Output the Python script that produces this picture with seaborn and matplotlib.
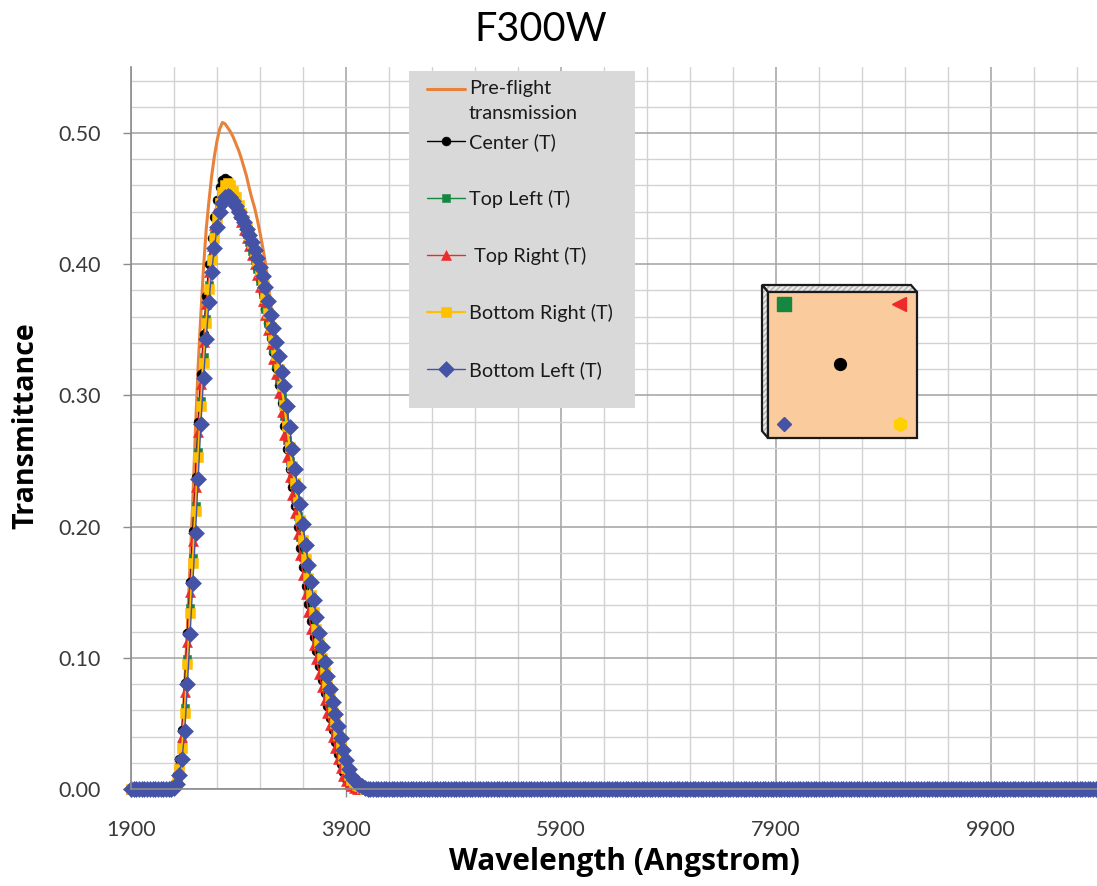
import numpy as np
import pandas as pd
import matplotlib
matplotlib.use("Agg")
import matplotlib.pyplot as plt
import seaborn as sns
from matplotlib.ticker import FixedLocator, FormatStrFormatter
from matplotlib.patches import Rectangle, Polygon
from matplotlib.legend_handler import HandlerLine2D

# ---------------- data ----------------
title_text = "F300W"
x_label = "Wavelength (Angstrom)"
y_label = "Transmittance"
x_tick_values = [1900, 3900, 5900, 7900, 9900]
y_tick_values = [0.0, 0.1, 0.2, 0.3, 0.4, 0.5]

wl_start, wl_stop, wl_step = 1900, 10900, 25   # sampling grid (Angstrom)
band_start = 2250                               # first listed band wavelength

series_names = ["Pre-flight\ntransmission", "Center (T)", "Top Left (T)",
                " Top Right (T)", "Bottom Right (T)", "Bottom Left (T)"]

# transmission values 2250..4100 A every 25 A (outside: 0)
preflight_band = [
    0.000, 0.000, 0.002, 0.008, 0.020, 0.042, 0.080, 0.125, 0.172, 0.220,
    0.275, 0.323, 0.362, 0.398, 0.427, 0.448, 0.467, 0.482, 0.494, 0.503,
    0.508, 0.507, 0.504, 0.501, 0.497, 0.492, 0.487, 0.481, 0.474, 0.467,
    0.458, 0.450, 0.443, 0.434, 0.424, 0.413, 0.401, 0.386, 0.370, 0.354,
    0.339, 0.323, 0.306, 0.288, 0.268, 0.250, 0.234, 0.219, 0.203, 0.187,
    0.172, 0.158, 0.144, 0.131, 0.118, 0.106, 0.095, 0.084, 0.074, 0.064,
    0.055, 0.046, 0.037, 0.028, 0.020, 0.013, 0.008, 0.005, 0.003, 0.001,
    0.000, 0.000, 0.000, 0.000, 0.000]
center_band = [
    0.000, 0.001, 0.004, 0.011, 0.023, 0.045, 0.081, 0.119, 0.158, 0.197,
    0.238, 0.280, 0.316, 0.347, 0.376, 0.400, 0.420, 0.436, 0.449, 0.459,
    0.464, 0.466, 0.464, 0.460, 0.455, 0.449, 0.443, 0.437, 0.431, 0.425,
    0.419, 0.412, 0.405, 0.397, 0.389, 0.378, 0.366, 0.355, 0.344, 0.333,
    0.321, 0.308, 0.294, 0.277, 0.259, 0.244, 0.230, 0.216, 0.200, 0.184,
    0.169, 0.155, 0.141, 0.128, 0.116, 0.105, 0.094, 0.083, 0.073, 0.063,
    0.054, 0.045, 0.036, 0.027, 0.019, 0.013, 0.008, 0.005, 0.003, 0.002,
    0.001, 0.000, 0.000, 0.000, 0.000]
top_left_band = [
    0.000, 0.001, 0.002, 0.007, 0.017, 0.033, 0.062, 0.099, 0.138, 0.176,
    0.216, 0.257, 0.296, 0.329, 0.358, 0.384, 0.405, 0.422, 0.436, 0.447,
    0.455, 0.460, 0.461, 0.458, 0.453, 0.447, 0.441, 0.435, 0.429, 0.423,
    0.417, 0.410, 0.403, 0.396, 0.387, 0.377, 0.366, 0.355, 0.345, 0.335,
    0.324, 0.312, 0.299, 0.284, 0.266, 0.250, 0.236, 0.222, 0.208, 0.192,
    0.177, 0.163, 0.149, 0.136, 0.123, 0.111, 0.100, 0.089, 0.079, 0.069,
    0.060, 0.050, 0.041, 0.032, 0.024, 0.016, 0.011, 0.007, 0.004, 0.003,
    0.002, 0.001, 0.000, 0.000, 0.000]
top_right_band = [
    0.000, 0.001, 0.003, 0.009, 0.020, 0.040, 0.074, 0.112, 0.150, 0.189,
    0.230, 0.272, 0.309, 0.341, 0.370, 0.394, 0.414, 0.430, 0.443, 0.453,
    0.459, 0.461, 0.459, 0.455, 0.450, 0.444, 0.438, 0.432, 0.426, 0.420,
    0.414, 0.407, 0.400, 0.392, 0.383, 0.372, 0.361, 0.350, 0.339, 0.328,
    0.316, 0.302, 0.287, 0.270, 0.253, 0.238, 0.224, 0.210, 0.194, 0.178,
    0.163, 0.149, 0.135, 0.122, 0.110, 0.099, 0.088, 0.078, 0.068, 0.058,
    0.049, 0.040, 0.031, 0.023, 0.016, 0.010, 0.006, 0.004, 0.002, 0.001,
    0.000, 0.000, 0.000, 0.000, 0.000]
bottom_right_band = [
    0.000, 0.000, 0.002, 0.006, 0.015, 0.031, 0.058, 0.095, 0.134, 0.172,
    0.212, 0.253, 0.292, 0.325, 0.355, 0.381, 0.403, 0.420, 0.435, 0.447,
    0.455, 0.460, 0.462, 0.460, 0.456, 0.451, 0.445, 0.439, 0.434, 0.428,
    0.422, 0.416, 0.409, 0.402, 0.394, 0.385, 0.374, 0.363, 0.352, 0.342,
    0.331, 0.320, 0.307, 0.293, 0.277, 0.261, 0.246, 0.233, 0.219, 0.205,
    0.190, 0.175, 0.161, 0.148, 0.135, 0.122, 0.111, 0.100, 0.089, 0.079,
    0.069, 0.059, 0.050, 0.041, 0.032, 0.024, 0.016, 0.011, 0.007, 0.005,
    0.003, 0.002, 0.001, 0.000, 0.000]
bottom_left_band = [
    0.000, 0.000, 0.001, 0.004, 0.011, 0.023, 0.044, 0.080, 0.118, 0.157,
    0.195, 0.236, 0.278, 0.313, 0.343, 0.371, 0.394, 0.412, 0.428, 0.440,
    0.447, 0.451, 0.452, 0.451, 0.448, 0.444, 0.440, 0.436, 0.432, 0.427,
    0.422, 0.417, 0.411, 0.405, 0.398, 0.391, 0.383, 0.372, 0.361, 0.351,
    0.341, 0.330, 0.318, 0.307, 0.292, 0.276, 0.259, 0.244, 0.230, 0.217,
    0.202, 0.186, 0.171, 0.158, 0.144, 0.131, 0.119, 0.108, 0.097, 0.086,
    0.076, 0.066, 0.057, 0.048, 0.039, 0.030, 0.022, 0.015, 0.010, 0.007,
    0.005, 0.003, 0.002, 0.001, 0.000]

bands = [preflight_band, center_band, top_left_band, top_right_band,
         bottom_right_band, bottom_left_band]

wavelength = np.arange(wl_start, wl_stop + 1, wl_step)
n_pre = (band_start - wl_start) // wl_step
frames = []
for name, band in zip(series_names, bands):
    n_post = len(wavelength) - n_pre - len(band)
    vals = np.concatenate([np.zeros(n_pre), np.array(band), np.zeros(n_post)])
    frames.append(pd.DataFrame({"wavelength": wavelength, "T": vals, "series": name}))
df = pd.concat(frames, ignore_index=True)

# ---------------- styles ----------------
colors = ["#E8823A", "#000000", "#17873F", "#EE2B2B", "#FFC000", "#4553A6"]
markers = [None, "o", "s", "^", "s", "D"]
msizes = [0, 6.4, 6.0, 6.8, 7.0, 8.2]
lwidths = [2.2, 1.0, 1.0, 1.0, 1.6, 1.0]

sns.set_theme(style="white")
plt.rcParams["font.family"] = ["Lato", "DejaVu Sans"]

W, H = 1097, 886
fig = plt.figure(figsize=(W / 100, H / 100), dpi=100)
fig.patch.set_facecolor("white")

ax_l, ax_r, ax_t, ax_b = 131, 1098.5, 67.4, 789
ax = fig.add_axes([ax_l / W, 1 - ax_b / H, (ax_r - ax_l) / W, (ax_b - ax_t) / H])
ax.set_facecolor("white")

handles = []
for name, c, m, ms, lw in zip(series_names, colors, markers, msizes, lwidths):
    sub = df[df["series"] == name]
    kw = dict(color=c, linewidth=lw, estimator=None, sort=False, ax=ax,
              legend=False, clip_on=False)
    if m is not None:
        kw.update(marker=m, markersize=ms, markeredgecolor=c,
                  markeredgewidth=0.4, markerfacecolor=c)
    sns.lineplot(data=sub, x="wavelength", y="T", **kw)
    handles.append(ax.lines[-1])

ax.set_xlim(wl_start, wl_stop)
ax.set_ylim(0, 0.55)

ax.xaxis.set_major_locator(FixedLocator(x_tick_values))
ax.xaxis.set_minor_locator(FixedLocator(np.arange(wl_start, wl_stop + 1, 400)))
ax.yaxis.set_major_locator(FixedLocator(y_tick_values))
ax.yaxis.set_minor_locator(FixedLocator(np.arange(0, 0.5401, 0.02)))
ax.yaxis.set_major_formatter(FormatStrFormatter("%.2f"))

ax.grid(which="major", color="#A2A2A2", linewidth=1.1)
ax.grid(which="minor", color="#D2D2D2", linewidth=1.0)
ax.set_axisbelow(True)

for s in ["top", "right"]:
    ax.spines[s].set_visible(False)
for s in ["left", "bottom"]:
    ax.spines[s].set_color("#8C8C8C")
    ax.spines[s].set_linewidth(1.2)

ax.tick_params(which="major", direction="out", length=5.8, width=1.0,
               color="#8C8C8C", labelsize=15.5, labelcolor="#3A3A3A")
ax.tick_params(axis="x", which="major", pad=16.5, bottom=True)
ax.tick_params(axis="y", which="major", pad=16, left=True)
ax.tick_params(which="minor", length=0)

lab_font = ["Open Sans", "DejaVu Sans"]
ax.set_xlabel(x_label, fontsize=21.5, fontweight="bold", color="black", family=lab_font)
ax.set_ylabel(y_label, fontsize=20.5, fontweight="bold", color="black", family=lab_font)
axw, axh = ax_r - ax_l, ax_b - ax_t
ax.xaxis.set_label_coords((624 - ax_l) / axw, (ax_b - 870) / axh)
ax.xaxis.label.set_va("baseline")
ax.yaxis.set_label_coords((33 - ax_l) / axw, (ax_b - 426) / axh)
ax.yaxis.label.set_va("baseline")

fig.text(541 / W, 1 - 41 / H, title_text, ha="center", va="baseline",
         fontsize=28.5, color="black")

# ---------------- legend ----------------
bg = Rectangle((409 / W, 1 - 408 / H), 226 / W, 337 / H, transform=fig.transFigure,
               facecolor="#D9D9D9", edgecolor="none", zorder=4.5, clip_on=False)
ax.add_patch(bg)


class ShiftedLineHandler(HandlerLine2D):
    """Line handle raised so it sits beside the first line of a two-line label."""
    def __init__(self, dy, **kw):
        super().__init__(**kw)
        self.dy = dy

    def create_artists(self, legend, orig_handle, xdescent, ydescent, width,
                       height, fontsize, trans):
        arts = super().create_artists(legend, orig_handle, xdescent, ydescent,
                                      width, height, fontsize, trans)
        for a in arts:
            a.set_ydata(np.asarray(a.get_ydata()) + self.dy * fontsize)
        return arts


leg_size = 14.3
leg_prop = dict(family=["Lato", "DejaVu Sans"], size=leg_size)
legA = ax.legend(handles=handles[:1], labels=series_names[:1], loc="upper left",
                 bbox_to_anchor=(427 / W, 1 - 80 / H), bbox_transform=fig.transFigure,
                 frameon=False, borderpad=0, borderaxespad=0, handlelength=1.9,
                 handletextpad=0.2, prop=leg_prop,
                 handler_map={handles[0]: ShiftedLineHandler(0.6)})
for t in legA.get_texts():
    t.set_color("#1a1a1a")
    t.set_linespacing(1.55)
ax.add_artist(legA)

legB = ax.legend(handles=handles[1:], labels=series_names[1:], loc="upper left",
                 bbox_to_anchor=(427 / W, 1 - 133 / H), bbox_transform=fig.transFigure,
                 frameon=False, borderpad=0, borderaxespad=0, handlelength=1.9,
                 handletextpad=0.2, labelspacing=1.96, prop=leg_prop, numpoints=1)
for t in legB.get_texts():
    t.set_color("#1a1a1a")

# ---------------- detector inset diagram ----------------
ins = fig.add_axes([758 / W, 1 - 442 / H, 164 / W, 162 / H])
ins.set_xlim(0, 164)
ins.set_ylim(162, 0)
ins.axis("off")
top_strip = [(4, 5), (153, 5), (159, 12), (10, 12)]
left_strip = [(4, 5), (10, 12), (10, 158), (4, 151)]
front = [(10, 12), (159, 12), (159, 158), (10, 158)]
for poly in (top_strip, left_strip):
    ins.add_patch(Polygon(poly, closed=True, facecolor="#E9E9E9",
                          edgecolor="#B5B5B5", hatch="//////", linewidth=0))
    ins.add_patch(Polygon(poly, closed=True, facecolor="none",
                          edgecolor="#1a1a1a", linewidth=1.6))
ins.add_patch(Polygon(front, closed=True, facecolor="#FACB9C",
                      edgecolor="#1a1a1a", linewidth=1.6))
ins.plot([26], [24], marker="s", ms=9.5, color="#17873F", mec="#17873F")
ins.plot([141], [24], marker="<", ms=9.5, color="#EE2B2B", mec="#EE2B2B")
ins.plot([82], [84], marker="o", ms=8.5, color="#000000")
ins.plot([26], [144], marker="D", ms=7.2, color="#4553A6", mec="#4553A6")
ins.plot([142], [144], marker="h", ms=10, color="#FFD000", mec="#FFD000")

fig.savefig("out.png", dpi=100, facecolor="white")
